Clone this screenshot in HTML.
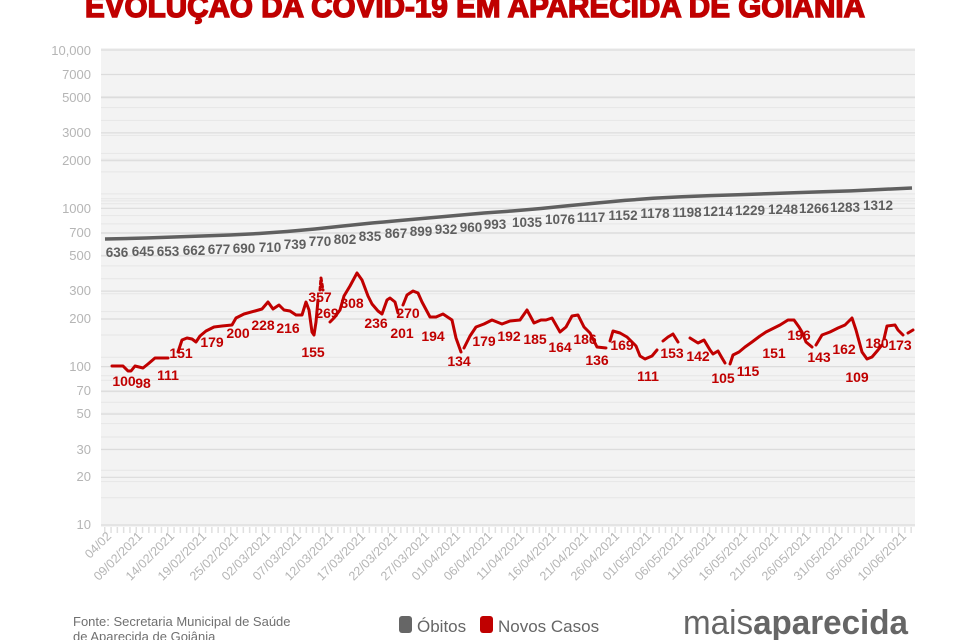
<!DOCTYPE html>
<html><head><meta charset="utf-8"><style>
html,body{margin:0;padding:0;background:#fff;width:960px;height:640px;overflow:hidden}
text{font-family:"Liberation Sans",sans-serif}
</style></head><body>
<svg width="960" height="640" viewBox="0 0 960 640" xmlns="http://www.w3.org/2000/svg">
<text x="85" y="17" font-size="31" font-weight="bold" fill="#c00000" stroke="#c00000" stroke-width="1.5" textLength="780" lengthAdjust="spacingAndGlyphs">EVOLUÇÃO DA COVID-19 EM APARECIDA DE GOIÂNIA</text>
<rect x="101" y="48" width="814" height="479" fill="#f3f3f3"/>
<g stroke="#e6e6e6" stroke-width="1">
<path d="M101 96.5H915M101 107.6H915M101 120.4H915M101 135.4H915M101 153.4H915M101 159.3H915M101 171.9H915M101 193.9H915M101 198.7H915M101 200.9H915M101 203.8H915M101 215.6H915M101 223.9H915M101 233.6H915M101 255.2H915M101 265.9H915M101 278.7H915M101 293.7H915M101 311.6H915M101 335.0H915M101 357.2H915M101 375.7H915M101 380.3H915M101 391.8H915M101 402.2H915M101 413.3H915M101 423.6H915M101 437.0H915M101 449.2H915M101 470.2H915M101 481.6H915M101 497.8H915"/>
</g>
<g stroke="#dcdcdc" stroke-width="1.2">
<path d="M101 50H915M101 74.5H915M101 97.6H915M101 132.9H915M101 160.7H915M101 208.3H915M101 232.8H915M101 255.9H915M101 291.1H915M101 319H915M101 366.6H915M101 391.1H915M101 414.2H915M101 449.5H915M101 477.3H915M101 525H915"/>
</g>
<g font-size="13" fill="#b5b5b5" text-anchor="end">
<text x="91" y="55">10,000</text><text x="91" y="79">7000</text><text x="91" y="102">5000</text><text x="91" y="137">3000</text><text x="91" y="165">2000</text><text x="91" y="213">1000</text><text x="91" y="237">700</text><text x="91" y="260">500</text><text x="91" y="295">300</text><text x="91" y="323">200</text><text x="91" y="371">100</text><text x="91" y="395">70</text><text x="91" y="418">50</text><text x="91" y="454">30</text><text x="91" y="481">20</text><text x="91" y="529">10</text>
</g>
<line x1="104" y1="530" x2="915" y2="530" stroke="#e0e0e0" stroke-width="6" stroke-dasharray="1.5 4.8"/>
<g font-size="12.5" fill="#b5b5b5" text-anchor="end">
<text transform="translate(112,537) rotate(-45)">04/02</text>
<text transform="translate(143,537) rotate(-45)">09/02/2021</text>
<text transform="translate(175,537) rotate(-45)">14/02/2021</text>
<text transform="translate(207,537) rotate(-45)">19/02/2021</text>
<text transform="translate(239,537) rotate(-45)">25/02/2021</text>
<text transform="translate(271,537) rotate(-45)">02/03/2021</text>
<text transform="translate(302,537) rotate(-45)">07/03/2021</text>
<text transform="translate(334,537) rotate(-45)">12/03/2021</text>
<text transform="translate(366,537) rotate(-45)">17/03/2021</text>
<text transform="translate(398,537) rotate(-45)">22/03/2021</text>
<text transform="translate(430,537) rotate(-45)">27/03/2021</text>
<text transform="translate(461,537) rotate(-45)">01/04/2021</text>
<text transform="translate(493,537) rotate(-45)">06/04/2021</text>
<text transform="translate(525,537) rotate(-45)">11/04/2021</text>
<text transform="translate(557,537) rotate(-45)">16/04/2021</text>
<text transform="translate(589,537) rotate(-45)">21/04/2021</text>
<text transform="translate(620,537) rotate(-45)">26/04/2021</text>
<text transform="translate(652,537) rotate(-45)">01/05/2021</text>
<text transform="translate(684,537) rotate(-45)">06/05/2021</text>
<text transform="translate(716,537) rotate(-45)">11/05/2021</text>
<text transform="translate(748,537) rotate(-45)">16/05/2021</text>
<text transform="translate(779,537) rotate(-45)">21/05/2021</text>
<text transform="translate(811,537) rotate(-45)">26/05/2021</text>
<text transform="translate(843,537) rotate(-45)">31/05/2021</text>
<text transform="translate(875,537) rotate(-45)">05/06/2021</text>
<text transform="translate(907,537) rotate(-45)">10/06/2021</text>
</g>
<polyline fill="none" stroke="#606060" stroke-width="3.5" stroke-linejoin="round" points="105,239 146,238 174,237 202,236 230,235 259,233.5 287,231.5 315,229 343,226 372,223 400,220.5 428,218 456,215.5 484,213 512,211 541,208.5 569,205.6 597,203 625,200.4 653,198.3 682,196.8 710,195.6 738,194.7 766,193.8 794,192.8 823,191.8 851,190.9 880,189.5 912,188"/>
<g font-size="13.5" font-weight="bold" fill="#5f5f5f" text-anchor="middle">
<text x="117" y="257">636</text><text x="143" y="256">645</text><text x="168" y="256">653</text><text x="194" y="255">662</text><text x="219" y="254">677</text><text x="244" y="253">690</text><text x="270" y="252">710</text><text x="295" y="249">739</text><text x="320" y="246">770</text><text x="345" y="244">802</text><text x="370" y="241">835</text><text x="396" y="238">867</text><text x="421" y="236">899</text><text x="446" y="234">932</text><text x="471" y="232">960</text><text x="495" y="229">993</text><text x="527" y="227">1035</text><text x="560" y="224">1076</text><text x="591" y="222">1117</text><text x="623" y="220">1152</text><text x="655" y="218">1178</text><text x="687" y="217">1198</text><text x="718" y="216">1214</text><text x="750" y="215">1229</text><text x="783" y="214">1248</text><text x="814" y="213">1266</text><text x="845" y="212">1283</text><text x="878" y="210">1312</text>
</g>
<g fill="none" stroke="#c00000" stroke-width="3" stroke-linejoin="round" stroke-linecap="round">
<polyline points="112,366 123,366 128,371 131,371 135,366 139,367 143,368 148,364 155,358 162,358 168,358"/>
<polyline points="178,352 182,340 187,338 192,339 196,342 200,336 206,331 214,327 222,326 232,325 236,318 244,314 255,311 262,309 268,302 273,309 279,305 284,310 290,311 296,315 302,315 306,302 309,310 312,332 314,335 316,322 318,300"/>
<polyline points="320,290 321,278 323,290" stroke-dasharray="3 3"/>
<polyline points="330,322 334,318 340,310 344,296 350,286 357,273 362,280 368,296 372,304 378,311 382,314 387,300 390,298 395,302 398,313"/>
<polyline points="403,305 407,295 413,291 418,293 422,302 430,317 436,317 443,314 452,320 456,338 461,352"/>
<polyline points="464,348 470,336 476,327 484,324 492,320 502,324 510,321 520,320 527,310 534,323 541,320 546,320 552,318 560,332 566,327 572,316 578,315 584,327 590,333 597,347 606,348"/>
<polyline points="610,341 613,331 620,333 627,337 636,346 640,356 645,359 652,356 657,350"/>
<polyline points="663,341 668,337 673,334 678,342"/>
<polyline points="690,338 698,343 704,340 710,350 713,354 718,351 722,358 725,363"/>
<polyline points="730,364 733,355 739,352 745,347 752,342 760,336 766,332 770,330 780,325 788,320 794,320 799,327 802,332 806,342 812,347"/>
<polyline points="816,345 822,335 830,332 838,328 845,325 852,318 856,330 862,352 867,359 872,357 878,350 882,345"/>
<polyline points="884,339 887,326 895,325 898,330 903,335"/>
<polyline points="908,333 913,330"/>
</g>
<g font-size="14" font-weight="bold" fill="#c00000" text-anchor="middle">
<text x="124" y="386">100</text><text x="143" y="388">98</text><text x="168" y="380">111</text><text x="181" y="358">151</text><text x="212" y="347">179</text><text x="238" y="338">200</text><text x="263" y="330">228</text><text x="288" y="333">216</text><text x="313" y="357">155</text><text x="320" y="302">357</text><text x="327" y="318">269</text><text x="352" y="308">308</text><text x="376" y="328">236</text><text x="402" y="338">201</text><text x="408" y="318">270</text><text x="433" y="341">194</text><text x="459" y="366">134</text><text x="484" y="346">179</text><text x="509" y="341">192</text><text x="535" y="344">185</text><text x="560" y="352">164</text><text x="585" y="344">186</text><text x="597" y="365">136</text><text x="622" y="350">169</text><text x="648" y="381">111</text><text x="672" y="358">153</text><text x="698" y="361">142</text><text x="723" y="383">105</text><text x="748" y="376">115</text><text x="774" y="358">151</text><text x="799" y="340">196</text><text x="819" y="362">143</text><text x="844" y="354">162</text><text x="857" y="382">109</text><text x="877" y="348">180</text><text x="900" y="350">173</text>
</g>
<text x="73" y="626" font-size="13" fill="#707070">Fonte: Secretaria Municipal de Saúde</text>
<text x="73" y="641" font-size="13" fill="#707070">de Aparecida de Goiânia</text>
<rect x="399" y="616" width="13" height="17" rx="3" fill="#666"/>
<text x="417" y="632" font-size="17" fill="#666">Óbitos</text>
<rect x="480" y="616" width="13" height="17" rx="3" fill="#c00000"/>
<text x="498" y="632" font-size="17" fill="#666">Novos Casos</text>
<text x="683" y="634" font-size="34" fill="#666" textLength="225" lengthAdjust="spacingAndGlyphs"><tspan font-weight="normal">mais</tspan><tspan font-weight="bold">aparecida</tspan></text>
</svg>
</body></html>
